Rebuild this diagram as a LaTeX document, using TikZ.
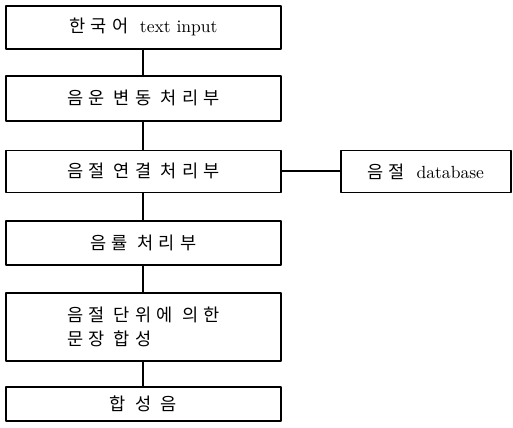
\documentclass[tikz,border=0pt]{standalone}
\usepackage{fontspec}
\newfontfamily\kr[LetterSpace=30]{Noto Sans CJK KR}
\usetikzlibrary{positioning}
\tikzset{blk/.style={draw,line width=1pt,minimum width=5.5cm,inner sep=0pt,font=\fontsize{10}{14}\selectfont},
  lnk/.style={line width=1.1pt}}
\begin{document}
\begin{tikzpicture}[line join = round, line cap = round]
      \useasboundingbox (0,0) rectangle (10.26,-8.54);
      \node[blk,minimum height=0.86cm,anchor=north west] (0) at (0.1,-0.1) {{\kr 한국어} \ text input};
      \node[blk,minimum height=0.9cm,below=0.5cm of 0] (1) {\kr 음운 변동 처리부};
      \node[blk,minimum height=0.84cm,below=0.56cm of 1] (2) {\kr 음절 연결 처리부};
      \node[blk,minimum height=0.88cm,below=0.53cm of 2] (3) {\kr 음률 처리부};
      \node[blk,minimum height=1.36cm,below=0.53cm of 3,align=left] (4) {\kr 음절 단위에 의한\\\kr 문장 합성};
      \node[blk,minimum height=0.68cm,below=0.48cm of 4] (5) {\kr 합 성 음};
      \node[blk,minimum height=0.84cm,minimum width=3.4cm,right=1.16cm of 2] (db) {{\kr 음절} \ database};

      \draw[lnk] (0)--(1);
      \draw[lnk] (1)--(2);
      \draw[lnk] (2)--(3);
      \draw[lnk] (3)--(4);
      \draw[lnk] (4)--(5);
      \draw[lnk] (2)--(db);
    \end{tikzpicture}
\end{document}
